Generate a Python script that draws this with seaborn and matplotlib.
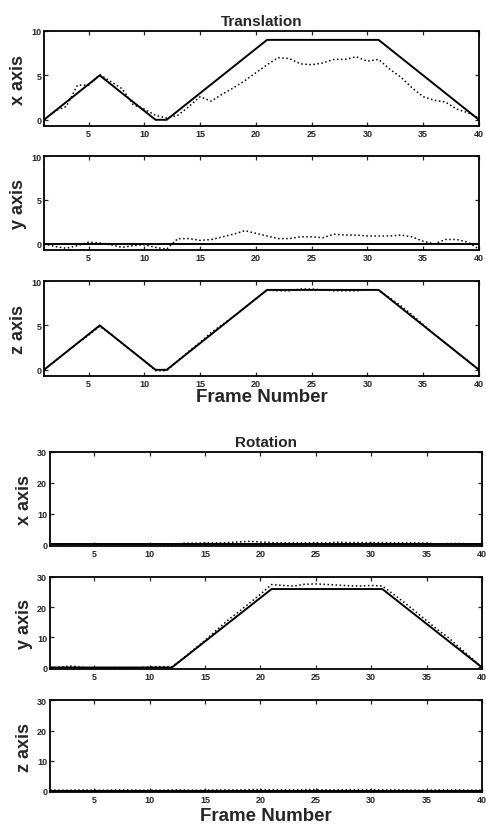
import numpy as np
import pandas as pd
import matplotlib
matplotlib.use('Agg')
import matplotlib.pyplot as plt
import seaborn as sns

sns.set_style('ticks', {'xtick.direction': 'in', 'ytick.direction': 'in'})
plt.rcParams['font.family'] = ['Liberation Sans', 'DejaVu Sans']
plt.rcParams['font.weight'] = 'bold'

#Data
frames = list(range(1, 41))

# ground truth keyframes (solid lines)
trans_key_f = [1, 6, 11, 12, 21, 31, 40]
trans_xz_key = [0, 5, 0, 0, 9, 9, 0]
trans_y_key = [0, 0, 0, 0, 0, 0, 0]
rot_key_f = [1, 12, 21, 31, 40]
rot_y_key = [0, 0, 26, 26, 0]
rot_xz_key = [0, 0, 0, 0, 0]

# estimated values (dotted lines)
est_tx = [0, 1.0, 1.5, 3.9, 3.9, 5.1, 4.3, 3.5, 1.7, 1.2,
          0.5, 0.2, 0.5, 1.5, 2.6, 2.1, 2.9, 3.6, 4.4, 5.3,
          6.2, 7.0, 6.9, 6.3, 6.2, 6.4, 6.8, 6.8, 7.1, 6.6,
          6.8, 5.7, 4.8, 3.6, 2.6, 2.2, 2.0, 1.2, 0.8, 0.2]
est_ty = [0, -0.3, -0.5, -0.2, 0.2, 0.1, -0.1, -0.4, -0.2, -0.1,
          -0.4, -0.6, 0.6, 0.6, 0.4, 0.5, 0.8, 1.1, 1.5, 1.2,
          0.9, 0.6, 0.6, 0.8, 0.8, 0.7, 1.1, 1.0, 1.0, 0.9,
          0.9, 0.9, 1.0, 0.8, 0.3, 0.0, 0.5, 0.5, 0.2, -0.6]
est_tz = [0, 1.0, 2.0, 3.0, 3.9, 4.9, 4.0, 3.0, 2.0, 1.0,
          -0.1, -0.1, 1.0, 2.1, 3.1, 4.2, 5.1, 6.0, 7.0, 8.0,
          9.0, 8.9, 8.9, 9.1, 9.1, 9.0, 8.9, 8.9, 8.9, 9.0,
          9.0, 8.1, 7.2, 6.2, 5.1, 4.0, 3.0, 2.0, 1.0, 0]
est_rx = [0.2, 0.2, 0.1, 0.2, 0.2, 0.1, 0.2, 0.1, 0.2, 0.2,
          0.0, -0.3, 0.4, 0.4, 0.5, 0.5, 0.6, 0.8, 1.0, 0.8,
          0.6, 0.5, 0.5, 0.5, 0.6, 0.5, 0.7, 0.6, 0.6, 0.6,
          0.6, 0.5, 0.5, 0.5, 0.4, 0.2, 0.3, 0.3, 0.2, 0.0]
est_ry = [-0.2, 0.2, 0.5, 0.0, -0.3, -0.2, -0.2, -0.3, -0.2, 0.2,
          0.3, 0.2, 3.0, 6.0, 9.0, 12.3, 15.5, 18.4, 21.3, 24.3,
          27.5, 27.2, 27.0, 27.6, 27.7, 27.5, 27.3, 27.1, 27.0, 27.2,
          27.0, 24.3, 21.5, 18.5, 15.5, 12.5, 9.8, 6.5, 3.3, 0]
est_rz = [0.3, 0.2, 0.2, 0.3, 0.2, 0.2, 0.3, 0.3, 0.2, 0.2,
          0.2, 0.3, 0.3, 0.2, 0.2, 0.3, 0.3, 0.3, 0.4, 0.4,
          0.4, 0.3, 0.3, 0.4, 0.4, 0.3, 0.3, 0.4, 0.4, 0.4,
          0.3, 0.3, 0.3, 0.2, 0.2, 0.3, 0.3, 0.3, 0.2, 0.2]

panels = [
    # (ylabel, key frames, key values, estimate, ylim, yticks, axes rect)
    ('x axis', trans_key_f, trans_xz_key, est_tx, (-0.7, 10), [0, 5, 10], [0.0905, 0.8468, 0.895, 0.1146]),
    ('y axis', trans_key_f, trans_y_key, est_ty, (-0.7, 10), [0, 5, 10], [0.0905, 0.6972, 0.895, 0.1134]),
    ('z axis', trans_key_f, trans_xz_key, est_tz, (-0.7, 10), [0, 5, 10], [0.0905, 0.5452, 0.895, 0.1146]),
    ('x axis', rot_key_f, rot_xz_key, est_rx, (-0.5, 30), [0, 10, 20, 30], [0.1029, 0.3402, 0.889, 0.1134]),
    ('y axis', rot_key_f, rot_y_key, est_ry, (-0.5, 30), [0, 10, 20, 30], [0.1029, 0.1918, 0.889, 0.1110]),
    ('z axis', rot_key_f, rot_xz_key, est_rz, (-0.5, 30), [0, 10, 20, 30], [0.1029, 0.0430, 0.889, 0.1110]),
]

fig = plt.figure(figsize=(4.86, 8.29), dpi=100)
axes = []
for ylabel, kf, kv, est, ylim, yticks, rect in panels:
    ax = fig.add_axes(rect)
    truth = pd.DataFrame({'frame': kf, 'value': kv})
    guess = pd.DataFrame({'frame': frames, 'value': est})
    sns.lineplot(data=truth, x='frame', y='value', ax=ax, color='black', linewidth=1.4)
    sns.lineplot(data=guess, x='frame', y='value', ax=ax, color='black', linewidth=1.1, linestyle=':')
    ax.set_xlim(1, 40)
    ax.set_ylim(*ylim)
    ax.set_xticks([5, 10, 15, 20, 25, 30, 35, 40])
    ax.set_yticks(yticks)
    ax.tick_params(axis='both', labelsize=6.5, length=3, width=0.9, top=True, right=True, pad=2)
    for lab in ax.get_xticklabels() + ax.get_yticklabels():
        lab.set_fontweight('bold')
    for sp in ax.spines.values():
        sp.set_linewidth(1.3)
        sp.set_color('black')
    ax.set_xlabel('')
    ax.set_ylabel(ylabel, fontsize=13, fontweight='bold', labelpad=3)
    axes.append(ax)

axes[0].set_title('Translation', fontsize=11, fontweight='bold', pad=4)
axes[3].set_title('Rotation', fontsize=11, fontweight='bold', pad=4)
axes[2].set_xlabel('Frame Number', fontsize=13.5, fontweight='bold', labelpad=0)
axes[5].set_xlabel('Frame Number', fontsize=13.5, fontweight='bold', labelpad=2)

fig.savefig('out.png', dpi=100)
